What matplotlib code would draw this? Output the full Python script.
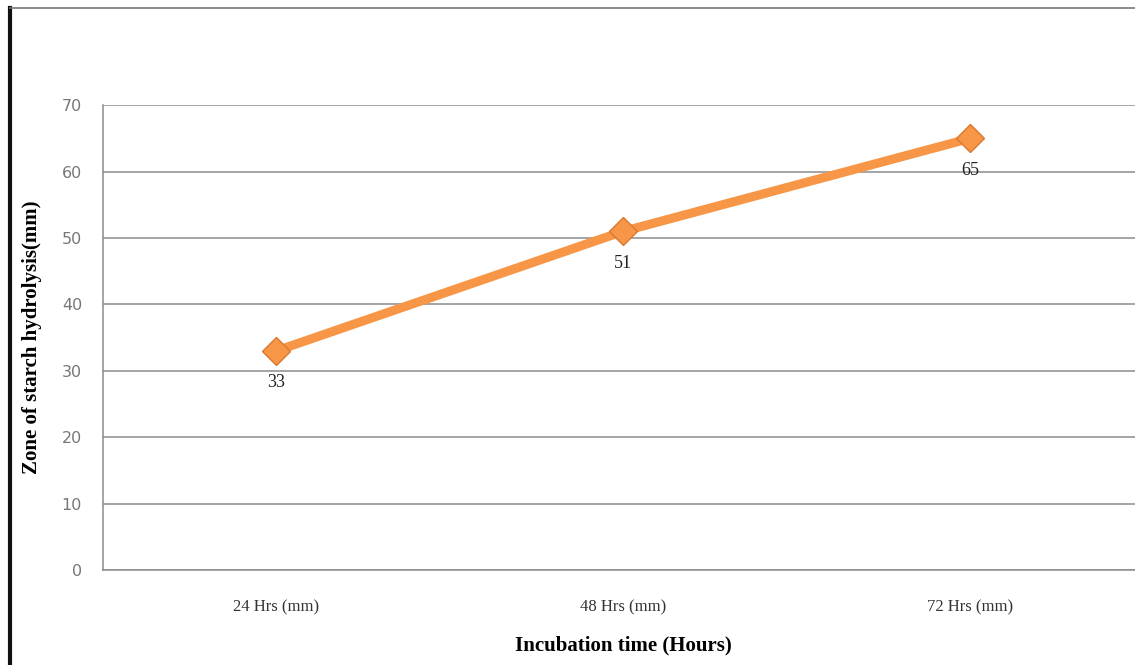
"""Zone of starch hydrolysis vs incubation time, single-series line chart."""
import matplotlib
matplotlib.use("Agg")
import matplotlib.pyplot as plt
from matplotlib.lines import Line2D

categories = ["24 Hrs (mm)", "48 Hrs (mm)", "72 Hrs (mm)"]
zone_mm = [33, 51, 65]
y_ticks = [0, 10, 20, 30, 40, 50, 60, 70]

ORANGE = "#F79646"
GRID = "#8C8C8C"

fig = plt.figure(figsize=(11.35, 6.65), dpi=100)
ax = fig.add_axes([0.0907, 0.1429, 0.917, 0.699])

x = list(range(len(categories)))
ax.plot(x, zone_mm, color=ORANGE, lw=6.5, solid_capstyle="round",
        marker="D", ms=14, mfc=ORANGE, mec="#D9782F", mew=1, zorder=3)
for xi, v in zip(x, zone_mm):
    ax.annotate(str(v), (xi, v), xytext=(0, -17), textcoords="offset points",
                ha="center", va="top", fontsize=13, family="Liberation Serif",
                color="#222222")

ax.set_xlim(-0.5, len(categories) - 0.5)
ax.set_ylim(0, 70)
ax.set_yticks(y_ticks)
ax.set_xticks(x)
ax.set_xticklabels(categories, family="Liberation Serif", fontsize=12,
                   color="#333333")
ax.tick_params(axis="x", length=0, pad=21)
ax.tick_params(axis="y", length=0, pad=15, labelsize=11.5, labelcolor="#777777")
ax.yaxis.grid(True, color=GRID, lw=1.1)
ax.set_axisbelow(True)
for side in ("top", "right"):
    ax.spines[side].set_visible(False)
for side in ("left", "bottom"):
    ax.spines[side].set_color(GRID)
    ax.spines[side].set_linewidth(1.1)

ax.set_xlabel("Incubation time (Hours)", family="Liberation Serif",
              fontsize=15, fontweight="bold", labelpad=15)
ax.set_ylabel("Zone of starch hydrolysis(mm)", family="Liberation Serif",
              fontsize=15, fontweight="bold")
ax.yaxis.set_label_coords(-0.059, 0.5)

# frame around the chart area
fig.add_artist(Line2D([0.009, 0.009], [0, 0.988], transform=fig.transFigure,
                      color="#111111", lw=3))
fig.add_artist(Line2D([0.009, 1.0], [0.988, 0.988], transform=fig.transFigure,
                      color="#777777", lw=1.2))

fig.savefig("out.png", dpi=100)
